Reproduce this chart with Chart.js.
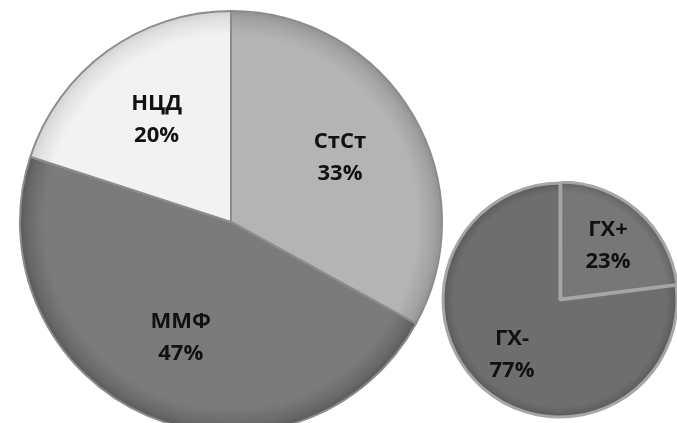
<!DOCTYPE html>
<html>
<head>
<meta charset="utf-8">
<script src="https://cdn.jsdelivr.net/npm/chart.js@4"></script>
<style>
    body { margin: 0; width: 677px; height: 423px; overflow: hidden; background: #ffffff; position: relative; }
    #mainBox { position: absolute; left: 19px; top: 10px; width: 424px; height: 424px; }
    #ghBox { position: absolute; left: 439px; top: 179px; width: 242px; height: 242px; }
</style>
</head>
<body>
<div id="mainBox"><canvas id="mainChart" width="424" height="424"></canvas></div>
<div id="ghBox"><canvas id="ghChart" width="242" height="242"></canvas></div>
<script>
// Treatment groups (big pie)
const mainLabels = ["СтСт", "ММФ", "НЦД"];
const mainValues = [33, 47, 20];
const mainColors = ["#b4b4b4", "#7b7b7b", "#f2f2f2"];

// ГХ split (small pie)
const ghLabels = ["ГХ+", "ГХ-"];
const ghValues = [23, 77];
const ghColors = ["#777777", "#6e6e6e"];

// darken a hex gray a bit for the rim of each slice
function shade(hex, amt) {
    const n = parseInt(hex.slice(1), 16);
    const r = Math.max(0, Math.min(255, (n >> 16) + amt));
    const g = Math.max(0, Math.min(255, ((n >> 8) & 255) + amt));
    const b = Math.max(0, Math.min(255, (n & 255) + amt));
    return `rgb(${r},${g},${b})`;
}

// radial gradient so the slices look slightly bevelled
function sliceFill(colors) {
    return (ctx) => {
        const chart = ctx.chart;
        const area = chart.chartArea;
        if (!area) return colors[ctx.dataIndex];
        const cx = (area.left + area.right) / 2;
        const cy = (area.top + area.bottom) / 2;
        const r = Math.min(area.width, area.height) / 2;
        const base = colors[ctx.dataIndex];
        const grad = chart.ctx.createRadialGradient(cx, cy, 0, cx, cy, r);
        grad.addColorStop(0, base);
        grad.addColorStop(0.88, base);
        grad.addColorStop(0.96, shade(base, -18));
        grad.addColorStop(1, shade(base, -35));
        return grad;
    };
}

// Draw "name / value%" inside each slice
const sliceLabels = {
    id: "sliceLabels",
    afterDatasetsDraw(chart, args, opts) {
        const ctx = chart.ctx;
        const meta = chart.getDatasetMeta(0);
        const values = chart.data.datasets[0].data;
        ctx.save();
        ctx.fillStyle = "#111111";
        ctx.font = "bold 22px 'Open Sans', sans-serif";
        ctx.textAlign = "center";
        ctx.textBaseline = "middle";
        meta.data.forEach((arc, i) => {
            const p = arc.getProps(["x", "y", "startAngle", "endAngle", "outerRadius"], true);
            const mid = (p.startAngle + p.endAngle) / 2;
            const rr = p.outerRadius * opts.frac;
            const x = p.x + Math.cos(mid) * rr;
            const y = p.y + Math.sin(mid) * rr;
            ctx.fillText(chart.data.labels[i], x, y - 16);
            ctx.fillText(values[i] + "%", x, y + 16);
        });
        ctx.restore();
    },
};

// Render big pie
function renderMainChart() {
    const ctx = document.getElementById("mainChart").getContext("2d");
    new Chart(ctx, {
        type: "pie",
        data: {
            labels: mainLabels,
            datasets: [
                {
                    data: mainValues,
                    backgroundColor: sliceFill(mainColors),
                    borderColor: "#8c8c8c",
                    borderWidth: 2,
                },
            ],
        },
        options: {
            responsive: false,
            animation: false,
            plugins: {
                legend: { display: false },
                tooltip: { enabled: false },
                sliceLabels: { frac: 0.6 },
            },
        },
        plugins: [sliceLabels],
    });
}

// Render small pie
function renderGhChart() {
    const ctx = document.getElementById("ghChart").getContext("2d");
    new Chart(ctx, {
        type: "pie",
        data: {
            labels: ghLabels,
            datasets: [
                {
                    data: ghValues,
                    backgroundColor: sliceFill(ghColors),
                    borderColor: "#a6a6a6",
                    borderWidth: 3,
                    offset: [5, 0],
                },
            ],
        },
        options: {
            responsive: false,
            animation: false,
            plugins: {
                legend: { display: false },
                tooltip: { enabled: false },
                sliceLabels: { frac: 0.62 },
            },
        },
        plugins: [sliceLabels],
    });
}

renderMainChart();
renderGhChart();
</script>
</body>
</html>
